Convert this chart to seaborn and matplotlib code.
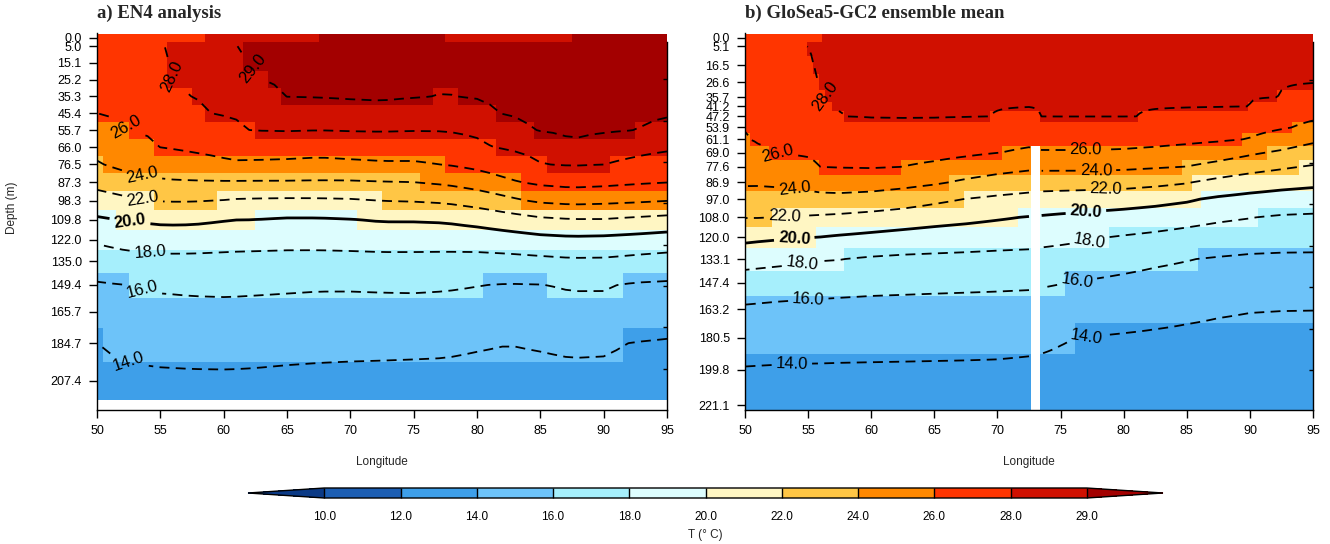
import numpy as np
import matplotlib
matplotlib.use("Agg")
import matplotlib.pyplot as plt
from matplotlib.colors import BoundaryNorm, ListedColormap
import seaborn as sns

# ------------------------------------------------------------------ data
# depth levels (m) of the two products
lev_a = [0.0, 5.0, 15.1, 25.2, 35.3, 45.4, 55.7, 66.0, 76.5, 87.3, 98.3,
         109.8, 122.0, 135.0, 149.4, 165.7, 184.7, 207.4]
lev_b = [0.0, 5.1, 16.5, 26.6, 35.7, 41.2, 47.2, 53.9, 61.1, 69.0, 77.6,
         86.9, 97.0, 108.0, 120.0, 133.1, 147.4, 163.2, 180.5, 199.8, 221.1]
# model longitudes (deg E)
lon_a = np.arange(50.0, 95.001, 1.0)
lon_b = np.arange(50.0, 95.001, 0.25)

iso_T = [29, 28, 26, 24, 22, 20, 18, 16, 14]

# EN4: depth (m) of each isotherm read at these longitudes
lon_pts_a = [50, 52.5, 55, 56, 57.5, 60, 61, 62.5, 65, 67.5, 70, 72.5, 75,
             77.5, 80, 82.5, 85, 87.5, 90, 92.5, 95]
d29_a = [-40, -32, -25, -22, -17, -8, 4, 22, 36, 37.5, 40, 41.5, 38, 34,
         38.7, 49, 58, 65, 61, 56, 51.4]
d28_a = [-30, -18, -3, 26, 38, 50.5, 53, 57, 57.3, 56, 57, 57.4, 56.8,
         57.4, 62.9, 69.5, 76, 78, 76.6, 74, 70.5]
d26_a = [45.5, 56, 66.5, 68.5, 71, 74, 75, 74.5, 73.8, 72.8, 74, 75, 75,
         76.8, 81, 85.8, 89.5, 91.2, 90.3, 88.8, 87.5]
d24_a = [75, 84, 85.5, 86, 86.3, 86.5, 86.5, 86.5, 86.5, 86.3, 86.3, 86.8,
         87.2, 89, 92, 96.5, 99.8, 101, 100.5, 99.8, 98.6]
d22_a = [92, 95.5, 98.8, 99, 99, 98, 97.2, 96.8, 96.7, 96.8, 97.2, 98.5,
         99, 100, 102.5, 105, 108.2, 109.5, 109.5, 108.2, 107]
d20_a = [108, 111, 112.5, 112.7, 112.5, 110.6, 110, 109.9, 108.3, 108.3,
         109.5, 110.8, 110.8, 111.3, 113.5, 116.5, 118.6, 119.6, 119, 118,
         116.7]
d18_a = [124, 128, 129.5, 129.4, 129.2, 128.3, 128, 127.7, 127.5, 127.6,
         128, 128.5, 128.4, 128.2, 128.2, 129.3, 130.8, 132.2, 132, 130.5,
         128.8]
d16_a = [146.3, 149.5, 152.5, 153, 154, 154.8, 154.6, 154, 153, 152, 152,
         152.6, 153, 152, 150, 148, 148.8, 151.5, 151.5, 146.5, 145.2]
d14_a = [184.4, 194, 196.8, 197.3, 198, 198.3, 198, 197.2, 195, 193.5,
         192.5, 191.8, 191, 190.3, 187.5, 185.2, 187.5, 190.4, 189.5, 183,
         179]
top_a = (31.0, -100.0)      # (T, depth) anchor above the surface
bottom_a = (12.0, 265.0)    # (T, depth) anchor below the plot
sst_breaks_a = [58.5, 67.5, 77.5, 87.5]
sst_vals_a = [27.0, 28.5, 29.5, 28.5, 29.5]

# GloSea5-GC2 ensemble mean
lon_pts_b = [50, 51, 52.5, 55, 56, 57.5, 60, 62.5, 65, 67.5, 70, 72.5, 73.5,
             75, 77.5, 80, 82.5, 85, 87.5, 90, 92.5, 95]
d29_b = [-70] * len(lon_pts_b)   # 29 degC never reached below the surface
d28_b = [-25, -21, -15, 6, 33, 46.5, 50.5, 51.2, 51, 49.5, 46.5, 43.5, 47.5,
         48, 48, 48, 46, 44.7, 43.5, 41, 35, 30]
d26_b = [58, 66, 71, 74.5, 77.8, 78.5, 79, 77.5, 75.3, 72.5, 69.3, 66.8, 68,
         68, 68, 67.5, 66.5, 64.8, 63, 60.5, 55.5, 50.5]
d24_b = [90.4, 89.5, 90, 92.5, 93.5, 94, 93, 91, 88.5, 85, 82, 79.8, 80, 80,
         80, 79.5, 78.5, 77.4, 74.5, 70.5, 67.5, 63.3]
d22_b = [108.5, 108.5, 107.8, 107, 106.5, 105.8, 104.3, 102.5, 99.5, 96.8,
         94.5, 92.8, 91.8, 91.6, 91.3, 91, 89.5, 87.5, 84, 81.5, 79, 76.5]
d20_b = [123.5, 122.5, 121.5, 120.3, 119.8, 118.5, 116.8, 115, 113.3, 111.7,
         109.5, 107.3, 106.6, 105.3, 103.5, 102, 100.5, 98.5, 95, 92.5, 91,
         89.8]
d18_b = [138.6, 138, 137, 135, 134, 133.5, 131, 129.3, 128.5, 127.8, 127,
         126.5, 125.3, 124, 121.5, 118.5, 116, 113, 110.5, 108.5, 106, 105]
d16_b = [159, 158, 156.5, 155, 154.8, 154, 153.2, 152.8, 152.2, 151.7, 151.2,
         150.6, 149.6, 148, 144.5, 140.7, 136.8, 134, 131, 128.5, 127.8, 127.7]
d14_b = [195.8, 195, 194, 193, 192.8, 192.3, 191.8, 191.3, 190.8, 190.3,
         189.5, 187.3, 185.8, 182.5, 178, 174, 170.5, 167.5, 165.3, 164,
         163.6, 163.5]
top_b = (29.6, -80.0)
bottom_b = (12.0, 280.0)
sst_breaks_b = [56.125]
sst_vals_b = [27.0, 28.5]
gap_lons_b = [72.75, 73.0, 73.25]   # missing columns
gap_from_depth_b = 69.0

# colour scale
bounds = [10, 12, 14, 16, 18, 20, 22, 24, 26, 28, 29]
colors = ["#0b3a86", "#1c5eb3", "#3e9fe9", "#6dc3f9", "#a6effc", "#ddfdfe",
          "#fff6c3", "#ffc645", "#ff8800", "#ff3500", "#d01000", "#a30000"]

# contour label longitudes
lab_a = {29: [62.3], 28: [55.9], 26: [52.2], 24: [53.5], 22: [53.6],
         20: [52.6], 18: [54.2], 16: [53.6], 14: [52.6]}
lab_b = {28: [56.3], 26: [52.6, 77.0], 24: [53.9, 77.8], 22: [53.1, 78.6],
         20: [53.9, 77.0], 18: [54.5, 77.3], 16: [55.0, 76.3], 14: [53.7, 77.0]}


# ------------------------------------------------------------------ field
def build_field(lons, lon_pts, iso_depths, levels, top, bottom,
                sst_breaks, sst_vals):
    D = np.array([np.interp(lons, lon_pts, d) for d in iso_depths])
    T = np.empty((len(levels), len(lons)))
    tcol = np.concatenate([[top[0]], iso_T, [bottom[0]]])
    for j in range(len(lons)):
        dcol = np.concatenate([[top[1]], D[:, j], [bottom[1]]])
        T[:, j] = np.interp(levels, dcol, tcol)
    T[0] = np.asarray(sst_vals)[np.digitize(lons, sst_breaks)]
    return T, D


T_a, D_a = build_field(lon_a, lon_pts_a,
                       [d29_a, d28_a, d26_a, d24_a, d22_a, d20_a, d18_a,
                        d16_a, d14_a],
                       lev_a, top_a, bottom_a, sst_breaks_a, sst_vals_a)
T_b, D_b = build_field(lon_b, lon_pts_b,
                       [d29_b, d28_b, d26_b, d24_b, d22_b, d20_b, d18_b,
                        d16_b, d14_b],
                       lev_b, top_b, bottom_b, sst_breaks_b, sst_vals_b)
gap_cols = np.isin(np.round(lon_b, 3), gap_lons_b)
gap_rows = np.asarray(lev_b) >= gap_from_depth_b
T_b[np.ix_(gap_rows, gap_cols)] = np.nan

# ------------------------------------------------------------------ style
sns.set_style("ticks")
plt.rcParams["font.family"] = ["Liberation Sans", "DejaVu Sans"]
plt.rcParams["axes.linewidth"] = 1.0

cmap = ListedColormap(sns.color_palette(colors[1:-1]))
cmap.set_under(colors[0])
cmap.set_over(colors[-1])
cmap.set_bad((1, 1, 1, 0))
norm = BoundaryNorm(bounds, cmap.N)

W, H = 1330, 544
fig = plt.figure(figsize=(W / 100, H / 100), dpi=100)
ax_a = fig.add_axes([97 / W, 1 - 410 / H, 570 / W, 377 / H])
ax_b = fig.add_axes([745 / W, 1 - 410 / H, 568 / W, 377 / H])
cax = fig.add_axes([248 / W, 1 - 498 / H, 915 / W, 10 / H])

dash = (0, (5.5, 3.5))


def draw_panel(ax, lons, levels, T, D, labels, ylim):
    Tm = np.ma.masked_invalid(T)
    mesh = ax.pcolormesh(lons, levels, Tm, cmap=cmap, norm=norm,
                         shading="nearest", zorder=1)
    lv = np.asarray(levels[1:])
    Z = Tm[1:]
    dashed = [t for t in sorted(iso_T) if t != 20]
    cs1 = ax.contour(lons, lv, Z, levels=dashed, colors="black",
                     linewidths=1.3, linestyles=[dash], zorder=3)
    cs2 = ax.contour(lons, lv, Z, levels=[20], colors="black",
                     linewidths=2.0, linestyles="solid", zorder=3)
    iso_d = dict(zip(iso_T, D))
    pos1, pos2 = [], []
    for t, lls in labels.items():
        for ll in lls:
            p = (ll, float(np.interp(ll, lons, iso_d[t])))
            (pos2 if t == 20 else pos1).append(p)
    ax.clabel(cs1, inline=True, fmt="%.1f", fontsize=12, manual=pos1,
              inline_spacing=4)
    lab20 = ax.clabel(cs2, inline=True, fmt="%.1f", fontsize=12,
                      manual=pos2, inline_spacing=4)
    for t in lab20:
        t.set_fontweight("bold")
    ax.set_xlim(50, 95)
    ax.set_ylim(*ylim)
    ax.set_xticks(np.arange(50, 96, 5))
    ax.set_xticklabels([f"{v:d}" for v in range(50, 96, 5)])
    ax.set_yticks(levels)
    ax.set_yticklabels([f"{v:.1f}" for v in levels])
    ax.tick_params(axis="both", direction="out", length=6, width=1,
                   labelsize=9, colors="black")
    ax.tick_params(axis="y", pad=5)
    ax.tick_params(axis="x", pad=5)
    for s in ("top", "right"):
        ax.spines[s].set_visible(False)
    for s in ("left", "bottom"):
        ax.spines[s].set_color("black")
    tw = ax.twinx()
    tw.set_ylim(*ylim)
    tw.set_yticks(np.arange(25, 201, 25))
    tw.tick_params(axis="y", direction="in", length=3, width=1,
                   labelright=False, colors="black")
    for s in ("top", "left", "bottom"):
        tw.spines[s].set_visible(False)
    tw.spines["right"].set_bounds(2.5, ylim[0])
    tw.spines["right"].set_color("black")
    return mesh


mesh = draw_panel(ax_a, lon_a, lev_a, T_a, D_a, lab_a, (225, -3))
draw_panel(ax_b, lon_b, lev_b, T_b, D_b, lab_b, (224, -3))

# titles and labels
fig.text(97 / W, 1 - 13 / H, "a) EN4 analysis", family="Liberation Serif",
         fontweight="bold", fontsize=13.5, ha="left", va="center")
fig.text(745 / W, 1 - 13 / H, "b) GloSea5-GC2 ensemble mean",
         family="Liberation Serif", fontweight="bold", fontsize=13.5,
         ha="left", va="center")
fig.text(12 / W, 1 - 208 / H, "Depth (m)", rotation=90, fontsize=8.5,
         ha="center", va="center")
fig.text(382 / W, 1 - 462 / H, "Longitude", fontsize=8.5, ha="center",
         va="center")
fig.text(1029 / W, 1 - 462 / H, "Longitude", fontsize=8.5, ha="center",
         va="center")

cb = fig.colorbar(mesh, cax=cax, orientation="horizontal", extend="both",
                  extendfrac=0.1, drawedges=True, ticks=bounds,
                  spacing="uniform")
cb.ax.set_xticklabels([f"{b:.1f}" for b in bounds])
cb.ax.tick_params(length=0, pad=9, labelsize=8.5, colors="black")
cb.outline.set_linewidth(1.0)
cb.outline.set_edgecolor("black")
cb.dividers.set_linewidth(1.0)
cb.dividers.set_color("black")
fig.text(705 / W, 1 - 535 / H, "T (° C)", fontsize=8.5, ha="center",
         va="center")

fig.savefig("out.png", dpi=100)
